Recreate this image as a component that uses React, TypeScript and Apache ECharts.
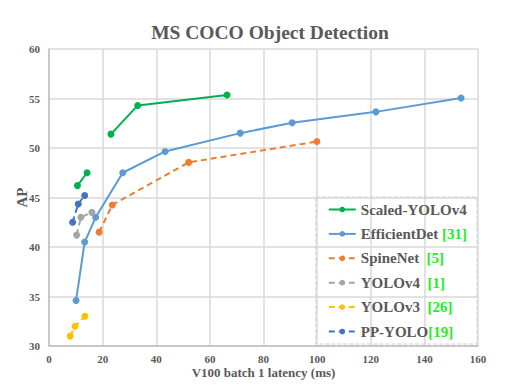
import React, { useEffect, useRef } from "react";
import * as echarts from "echarts";

const xTicks = [0, 20, 40, 60, 80, 100, 120, 140, 160];
const yTicks = [30, 35, 40, 45, 50, 55, 60];

const scaledYolo4A: [number, number][] = [[10.6, 46.2], [14.2, 47.5]];
const scaledYolo4B: [number, number][] = [[23.1, 51.4], [33.1, 54.3], [66.4, 55.35]];
const efficientDet: [number, number][] = [
  [10.1, 34.6], [13.3, 40.5], [17.4, 43.0], [27.5, 47.5], [43.3, 49.65],
  [71.3, 51.5], [90.7, 52.55], [121.9, 53.65], [153.7, 55.05],
];
const spineNet: [number, number][] = [[18.7, 41.5], [23.6, 44.25], [52.1, 48.55], [99.9, 50.65]];
const yolo4: [number, number][] = [[10.3, 41.2], [11.9, 43.0], [16.0, 43.5]];
const yolo3: [number, number][] = [[7.9, 31.0], [9.7, 32.0], [13.4, 33.0]];
const ppYolo: [number, number][] = [[8.8, 42.5], [10.9, 44.35], [13.3, 45.2]];

const names = ["Scaled-YOLOv4", "EfficientDet", "SpineNet", "YOLOv4", "YOLOv3", "PP-YOLO"];
const refs: Record<string, string> = {
  "Scaled-YOLOv4": "",
  EfficientDet: " [31]",
  SpineNet: "  [5]",
  YOLOv4: "  [1]",
  YOLOv3: "  [26]",
  "PP-YOLO": "[19]",
};

const FONT = "'Liberation Serif', 'Times New Roman', serif";

export default function App() {
  const ref = useRef<HTMLDivElement>(null);
  useEffect(() => {
    if (!ref.current) return;
    const chart = echarts.init(ref.current, undefined, { renderer: "svg" });
    const mk = (name: string, data: [number, number][], color: string, dashed: boolean) => ({
      name,
      type: "line",
      data,
      symbol: "circle",
      symbolSize: 7,
      itemStyle: { color },
      lineStyle: { color, width: 2, type: dashed ? [6, 4] : "solid" },
      emphasis: { disabled: true },
    });
    chart.setOption({
      animation: false,
      title: {
        text: "MS COCO Object Detection",
        left: 265,
        textAlign: "center",
        top: 17,
        textStyle: { fontFamily: FONT, fontSize: 19.5, fontWeight: "bold", color: "#595959" },
      },
      grid: { left: 49, right: 36, top: 49, bottom: 43, containLabel: false, outerBoundsMode: "none" },
      xAxis: {
        type: "value",
        min: xTicks[0],
        max: xTicks[xTicks.length - 1],
        interval: 20,
        name: "V100 batch 1 latency (ms)",
        nameLocation: "middle",
        nameMoveOverlap: false,
        nameGap: 20,
        nameTextStyle: { fontFamily: FONT, fontSize: 13, fontWeight: "bold", color: "#595959" },
        axisLine: { lineStyle: { color: "#bfbfbf", width: 1.5 } },
        axisTick: { show: false },
        axisLabel: { fontFamily: FONT, fontSize: 11, fontWeight: "bold", color: "#595959", margin: 7 },
        splitLine: { lineStyle: { color: "#d9d9d9", width: 1.5 } },
      },
      yAxis: {
        type: "value",
        min: yTicks[0],
        max: yTicks[yTicks.length - 1],
        interval: 5,
        name: "AP",
        nameLocation: "middle",
        nameMoveOverlap: false,
        nameGap: 20,
        nameTextStyle: { fontFamily: FONT, fontSize: 15, fontWeight: "bold", color: "#595959" },
        axisLine: { show: true, lineStyle: { color: "#bfbfbf", width: 1.5 } },
        axisTick: { show: false },
        axisLabel: { fontFamily: FONT, fontSize: 11, fontWeight: "bold", color: "#595959", margin: 9 },
        splitLine: { lineStyle: { color: "#d9d9d9", width: 1.5 } },
      },
      legend: {
        data: names,
        orient: "vertical",
        right: 37,
        bottom: 45,
        padding: [5, 10, 5, 12],
        itemWidth: 27,
        itemHeight: 7,
        itemGap: 9.4,
        borderColor: "#d0d0d0",
        borderType: "dashed",
        borderWidth: 1,
        formatter: (n: string) => (refs[n] ? `{n|${n}}{r|${refs[n]}}` : `{n|${n}}`),
        textStyle: {
          fontFamily: FONT,
          fontSize: 15,
          fontWeight: "bold",
          color: "#595959",
          lineHeight: 15,
          rich: {
            n: { fontFamily: FONT, fontSize: 15, fontWeight: "bold", color: "#595959", lineHeight: 15 },
            r: { fontFamily: FONT, fontSize: 15, fontWeight: "bold", color: "#22ee22", lineHeight: 15 },
          },
        },
      },
      series: [
        mk("Scaled-YOLOv4", scaledYolo4A, "#00b050", false),
        mk("Scaled-YOLOv4", scaledYolo4B, "#00b050", false),
        mk("EfficientDet", efficientDet, "#5b9bd5", false),
        mk("SpineNet", spineNet, "#ed7d31", true),
        mk("YOLOv4", yolo4, "#a5a5a5", true),
        mk("YOLOv3", yolo3, "#ffc000", true),
        mk("PP-YOLO", ppYolo, "#4472c4", true),
      ],
    });
    return () => chart.dispose();
  }, []);
  return (
    <div
      ref={ref}
      style={{ position: "fixed", left: 0, top: 0, width: 514, height: 389, background: "#fff" }}
    />
  );
}
